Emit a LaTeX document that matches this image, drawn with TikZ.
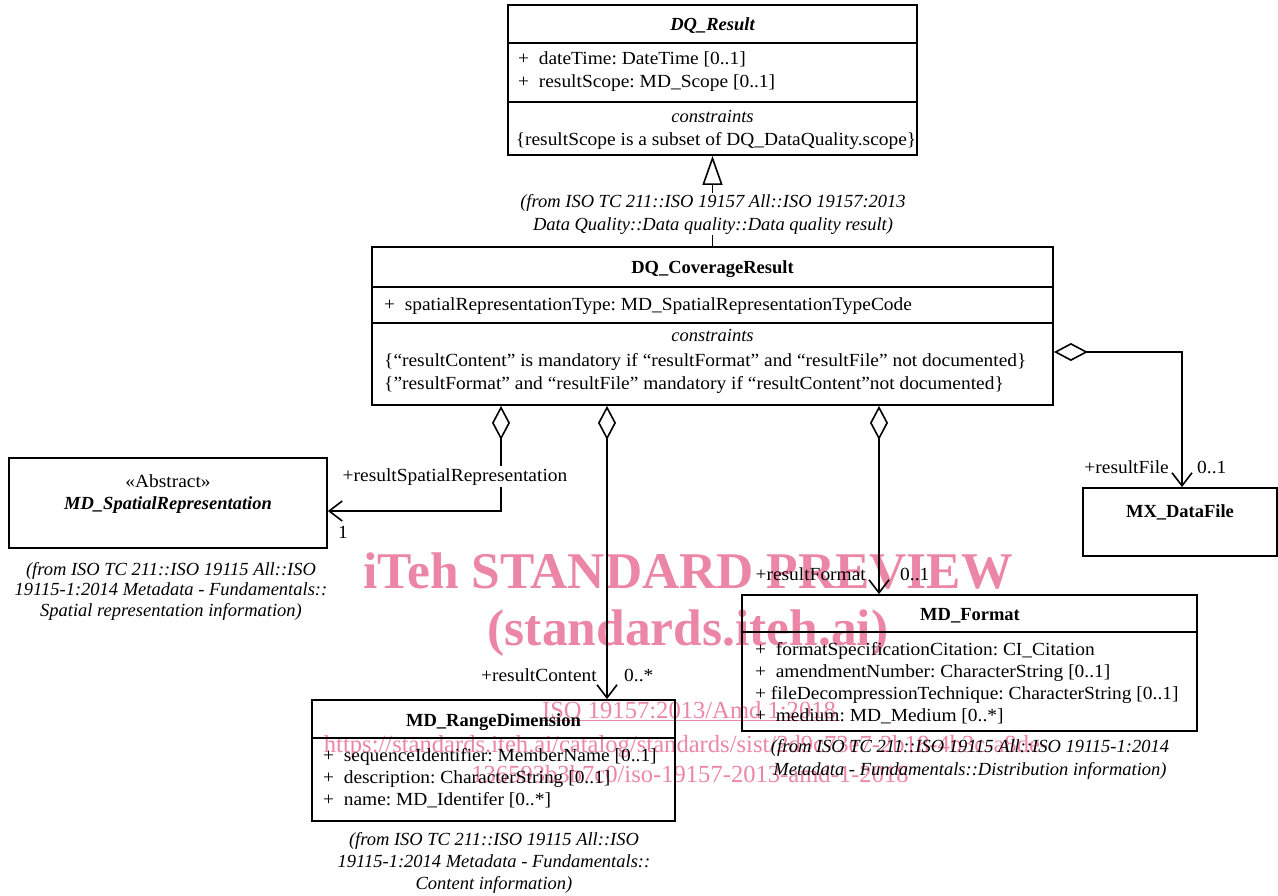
\documentclass[tikz,border=0pt]{standalone}
\usepackage{fontspec}
\setmainfont{Liberation Serif}[UprightFeatures={FakeStretch=1.05}]
\newfontfamily\wmfont{Liberation Serif}
\usetikzlibrary{arrows.meta}
\definecolor{wm}{RGB}{236,134,166}
\frenchspacing
\begin{document}
\begin{tikzpicture}[x=1pt,y=-1pt,
  box/.style={draw, line width=1.8pt, rectangle, inner sep=0pt},
  sep/.style={line width=1.6pt},
  txt/.style={inner sep=0pt, font=\fontsize{18.5}{23}\selectfont},
  ttl/.style={txt, font=\fontsize{18.5}{23}\selectfont\bfseries, anchor=base},
  attr/.style={txt, anchor=base west},
  from/.style={inner sep=0pt, align=center, anchor=base, font=\fontsize{18.5}{#1}\selectfont\itshape},
  lbl/.style={txt},
  agg/.style={line width=1.6pt, {Diamond[open,length=34pt,width=18pt,line width=1.6pt]}-{Straight Barb[length=13pt,width=20pt,line width=1.6pt]}},
  gen/.style={line width=1.6pt, -{Triangle[open,length=29pt,width=20pt,line width=1.6pt]}},
  wmbig/.style={inner sep=0pt, anchor=base, text=wm, font=\wmfont\fontsize{51.5}{55}\selectfont\bfseries},
  wmsmall/.style={inner sep=0pt, anchor=base, text=wm, font=\wmfont\fontsize{24.6}{26}\selectfont}
]
\useasboundingbox (0,0) rectangle (1278,895);

% watermark (behind)
\node[wmbig] (wm1) at (688,588) {iTeh STANDARD PREVIEW};
\node[wmbig] (wm2) at (688,645) {(standards.iteh.ai)};
\node[wmsmall] (wm3) at (689,718) {ISO 19157:2013/Amd 1:2018};
\draw[wm, line width=0.8pt] (wm3.base west) ++(0,2) -- ++(298,0);
\node[wmsmall] (wm4) at (686,752) {https://standards.iteh.ai/catalog/standards/sist/2d9c73e7-2b18-4b3c-a8de-};
\node[wmsmall] (wm5) at (690,782) {136593b3b7c0/iso-19157-2013-amd-1-2018};

% DQ_Result
\node[box, minimum width=409pt, minimum height=150pt] (dqr) at (712.5,80) {};
\draw[sep] (508,43) -- (917,43);
\draw[sep] (508,102) -- (917,102);
\node[ttl, font=\fontsize{18.5}{23}\selectfont\bfseries\itshape] (dqrt) at (712.5,30) {DQ\_Result};
\node[attr] (dqra1) at (518,64) {+\ \ dateTime: DateTime [0..1]};
\node[attr] (dqra2) at (518,87) {+\ \ resultScope: MD\_Scope [0..1]};
\node[txt, anchor=base, font=\fontsize{18.5}{23}\selectfont\itshape] (dqrc) at (712.5,122) {constraints};
\node[txt, anchor=base] (dqrc1) at (716,145) {\{resultScope is a subset of DQ\_DataQuality.scope\}};

% DQ_CoverageResult
\node[box, minimum width=681pt, minimum height=158pt] (dqcr) at (712.5,326) {};
\draw[sep] (372,287) -- (1053,287);
\draw[sep] (372,323) -- (1053,323);
\node[ttl] (dqcrt) at (712.5,273) {DQ\_CoverageResult};
\node[attr] (dqcra1) at (384,310) {+\ \ spatialRepresentationType: MD\_SpatialRepresentationTypeCode};
\node[txt, anchor=base, font=\fontsize{18.5}{23}\selectfont\itshape] (dqcrc) at (712.5,341) {constraints};
\node[attr] (dqcrc1) at (384,366) {\{“resultContent” is mandatory if “resultFormat” and “resultFile” not documented\}};
\node[attr] (dqcrc2) at (384,389) {\{”resultFormat” and “resultFile” mandatory if “resultContent”not documented\}};

% generalization
\draw[gen] (dqcr) -- (dqr);
\node[from=23, fill=white, inner sep=1pt] (dqrfrom) at (713,230) {(from ISO TC 211::ISO 19157 All::ISO 19157:2013\\Data Quality::Data quality::Data quality result)};

% MD_SpatialRepresentation
\node[box, minimum width=318pt, minimum height=90pt] (msr) at (168,503) {};
\node[txt, anchor=base] (msrs) at (168,487) {«Abstract»};
\node[ttl, font=\fontsize{18.5}{23}\selectfont\bfseries\itshape] (msrt) at (168,509) {MD\_SpatialRepresentation};
\node[from=20.5] (msrfrom) at (171,616) {(from ISO TC 211::ISO 19115 All::ISO\\19115-1:2014 Metadata - Fundamentals::\\Spatial representation information)};

% MD_RangeDimension
\node[box, minimum width=363pt, minimum height=121pt] (mrd) at (493.5,760.5) {};
\draw[sep] (312,738) -- (675,738);
\node[ttl] (mrdt) at (493.5,726) {MD\_RangeDimension};
\node[attr] (mrda1) at (323,761) {+\ \ sequenceIdentifier: MemberName [0..1]};
\node[attr] (mrda2) at (323,783) {+\ \ description: CharacterString [0..1]};
\node[attr] (mrda3) at (323,805) {+\ \ name: MD\_Identifer [0..*]};
\node[from=22] (mrdfrom) at (494,889) {(from ISO TC 211::ISO 19115 All::ISO\\19115-1:2014 Metadata - Fundamentals::\\Content information)};

% MD_Format
\node[box, minimum width=455pt, minimum height=136pt] (mdf) at (969.5,663) {};
\draw[sep] (742,632) -- (1197,632);
\node[ttl] (mdft) at (970,620) {MD\_Format};
\node[attr] (mdfa1) at (755,655) {+\ \ formatSpecificationCitation: CI\_Citation};
\node[attr] (mdfa2) at (755,677) {+\ \ amendmentNumber: CharacterString [0..1]};
\node[attr] (mdfa3) at (755,699) {+ fileDecompressionTechnique: CharacterString [0..1]};
\node[attr] (mdfa4) at (755,721) {+\ \ medium: MD\_Medium [0..*]};
\node[from=23] (mdffrom) at (970,775) {(from ISO TC 211::ISO 19115 All::ISO 19115-1:2014\\Metadata - Fundamentals::Distribution information)};

% MX_DataFile
\node[box, minimum width=194pt, minimum height=68pt] (mxdf) at (1180,522) {};
\node[ttl] (mxdft) at (1180,517) {MX\_DataFile};

% aggregations
\draw[agg] ([xshift=-211.5pt]dqcr.south) |- ([yshift=-8pt]msr.east);
\node[lbl, anchor=base, fill=white, inner sep=2pt] (l1) at (455,481) {+resultSpatialRepresentation};
\node[lbl, anchor=base west] (m1) at (338,538) {1};

\draw[agg] ([xshift=-105.5pt]dqcr.south) -- ([xshift=113.5pt]mrd.north);
\node[lbl, anchor=base east] (l2) at (597,681) {+resultContent};
\node[lbl, anchor=base west] (m2) at (624,681) {0..*};

\draw[agg] ([xshift=166.5pt]dqcr.south) -- ([xshift=-90.5pt]mdf.north);
\node[lbl, anchor=base east] (l3) at (866,580) {+resultFormat};
\node[lbl, anchor=base west] (m3) at (900,580) {0..1};

\draw[agg] ([yshift=-26pt]dqcr.east) -| ([xshift=2pt]mxdf.north);
\node[lbl, anchor=base east] (l4) at (1169,473) {+resultFile};
\node[lbl, anchor=base west] (m4) at (1197,473) {0..1};
\end{tikzpicture}
\end{document}
